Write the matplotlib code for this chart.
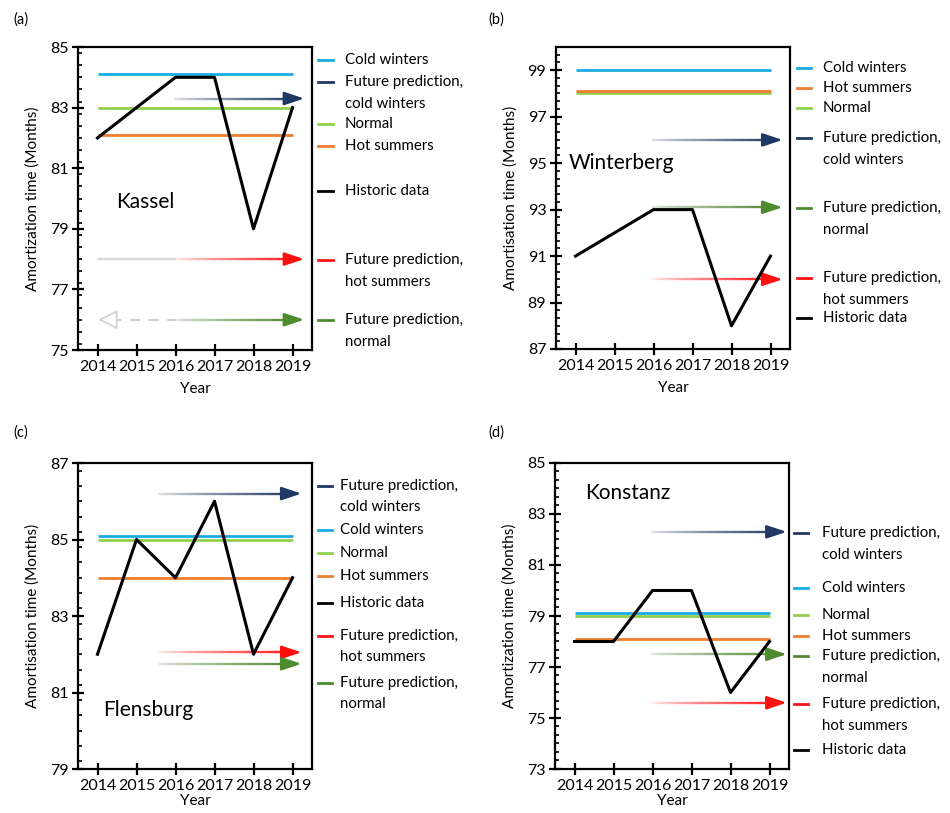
import matplotlib
matplotlib.use('Agg')
import matplotlib.pyplot as plt
import matplotlib.transforms as mtransforms
from matplotlib.collections import LineCollection
from matplotlib.ticker import MultipleLocator
from matplotlib.colors import to_rgb
import numpy as np

plt.rcParams.update({'font.family': ['Lato', 'DejaVu Sans'], 'font.size': 10.5})

# ---------------- data ----------------
years = [2014, 2015, 2016, 2017, 2018, 2019]

kassel_hist = [82, 83, 84, 84, 79, 83]
kassel_cold, kassel_normal, kassel_hot = 84.1, 83.0, 82.1
kassel_fut_cold, kassel_fut_hot, kassel_fut_normal = 83.3, 78.0, 76.0

winterberg_hist = [91, 92, 93, 93, 88, 91]
winterberg_cold, winterberg_normal, winterberg_hot = 99.0, 98.0, 98.1
winterberg_fut_cold, winterberg_fut_normal, winterberg_fut_hot = 96.0, 93.1, 90.0

flensburg_hist = [82, 85, 84, 86, 82, 84]
flensburg_cold, flensburg_normal, flensburg_hot = 85.1, 85.0, 84.0
flensburg_fut_cold, flensburg_fut_hot, flensburg_fut_normal = 86.2, 82.05, 81.75

konstanz_hist = [78, 78, 80, 80, 76, 78]
konstanz_cold, konstanz_normal, konstanz_hot = 79.1, 79.0, 78.1
konstanz_fut_cold, konstanz_fut_normal, konstanz_fut_hot = 82.3, 77.5, 75.6

# colours
C_COLD = '#1AABE3'
C_FCOLD = '#203864'
C_NORM = '#92D050'
C_HOT = '#ED7D31'
C_FHOT = '#FF1010'
C_FNORM = '#4E8A2E'
C_HIST = 'black'

W, H = 950, 813
fig = plt.figure(figsize=(W / 100, H / 100), dpi=100)

TICK_FS = 11.5
LAB_FS = 11
LEG_FS = 10.8


def make_ax(l, r, t, b):
    return fig.add_axes([l / W, 1 - b / H, (r - l) / W, (b - t) / H])


def style_ax(ax, ylim, minor, ylab, xpad=6):
    ax.set_xlim(2013.5, 2019.5)
    ax.set_ylim(*ylim)
    ax.set_xticks(years)
    ax.set_yticks(np.arange(ylim[0], ylim[1] + 0.01, 2))
    ax.yaxis.set_minor_locator(MultipleLocator(minor))
    for s in ax.spines.values():
        s.set_linewidth(1.6)
    ax.tick_params(axis='x', direction='inout', length=8, width=1.6, labelsize=TICK_FS, pad=3)
    ax.tick_params(axis='y', which='major', direction='inout', length=8, width=1.6,
                   labelsize=TICK_FS, pad=3)
    ax.tick_params(axis='y', which='minor', direction='in', length=3, width=1.2)
    ax.set_xlabel('Year', fontsize=LAB_FS, labelpad=xpad)
    ax.set_ylabel(ylab, fontsize=LAB_FS, labelpad=7)


def levels(ax, cold, normal, hot, order=('normal', 'hot', 'cold')):
    vals = {'normal': (normal, C_NORM), 'hot': (hot, C_HOT), 'cold': (cold, C_COLD)}
    for k in order:
        v, c = vals[k]
        ax.plot([years[0], years[-1]], [v, v], color=c, lw=2.0, solid_capstyle='butt', zorder=2)


def grad_arrow(ax, x0, x1, y, color, ls='solid', start=(0.9, 0.9, 0.9)):
    n = 80
    xs = np.linspace(x0, x1 - 0.15, n + 1)
    segs = [[(xs[i], y), (xs[i + 1], y)] for i in range(n)]
    t = np.linspace(0, 1, n) ** 0.8
    c1 = np.array(to_rgb(color))
    cols = [tuple((1 - a) * np.array(start) + a * c1) for a in t]
    lc = LineCollection(segs, colors=cols, linewidths=1.7, linestyles=ls, zorder=3)
    ax.add_collection(lc)
    ax.annotate('', xy=(x1, y), xytext=(x1 - 0.2, y),
                arrowprops=dict(arrowstyle='-|>,head_length=0.6,head_width=0.2',
                                color=color, lw=1.7, shrinkA=0, shrinkB=0,
                                mutation_scale=20),
                annotation_clip=False, zorder=4)


def legend(ax, items, x0, x1, xt):
    tr = mtransforms.blended_transform_factory(ax.transAxes, ax.transData)
    for label, y, c in items:
        ax.plot([x0, x1], [y, y], color=c, lw=2.0, transform=tr, clip_on=False)
        lines = label.split('\n')
        ax.text(xt, y, lines[0], transform=tr, va='center', ha='left', fontsize=LEG_FS)
        if len(lines) > 1:
            ax.annotate(lines[1], xy=(xt, y), xycoords=tr, xytext=(0, -15.5),
                        textcoords='offset points', va='center', ha='left',
                        fontsize=LEG_FS)


# ---------------- (a) Kassel ----------------
ax = make_ax(78, 312, 47, 350)
style_ax(ax, (75, 85), 0.4, 'Amortization time (Months)')
levels(ax, kassel_cold, kassel_normal, kassel_hot)
ax.plot(years, kassel_hist, color=C_HIST, lw=2.2, zorder=5)
grad_arrow(ax, 2015.95, 2019.3, kassel_fut_cold, C_FCOLD)
ax.plot([2014, 2016], [kassel_fut_hot] * 2, color='#d8d8d8', lw=1.7, zorder=3)
grad_arrow(ax, 2016, 2019.3, kassel_fut_hot, C_FHOT, start=(1, 0.93, 0.93))
ax.plot([2014.35, 2016], [kassel_fut_normal] * 2, color='#d0d0d0', lw=1.5,
        ls=(0, (5, 4)), zorder=3)
grad_arrow(ax, 2016, 2019.3, kassel_fut_normal, C_FNORM, ls=(0, (5, 2)))
ax.annotate('', xy=(2014.02, kassel_fut_normal), xytext=(2014.4, kassel_fut_normal),
            arrowprops=dict(arrowstyle='-|>,head_length=0.6,head_width=0.3',
                            fc='white', ec='#d0d0d0', lw=1.2, shrinkA=0, shrinkB=0,
                            mutation_scale=20), zorder=4)
ax.text(2014.49, 79.9, 'Kassel', fontsize=15, va='center', ha='left')
legend(ax, [('Cold winters', 84.57, C_COLD),
            ('Future prediction,\ncold winters', 83.84, C_FCOLD),
            ('Normal', 82.46, C_NORM),
            ('Hot summers', 81.73, C_HOT),
            ('Historic data', 80.25, C_HIST),
            ('Future prediction,\nhot summers', 77.97, C_FHOT),
            ('Future prediction,\nnormal', 75.99, C_FNORM)],
       1.026, 1.09, 1.141)
fig.text(13 / W, 1 - 20 / H, '(a)', fontsize=10.5, va='center', ha='left')

# ---------------- (b) Winterberg ----------------
ax = make_ax(556, 790, 47, 349)
style_ax(ax, (87, 100), 1 / 3, 'Amortisation time (Months)')
ax.set_yticks(np.arange(87, 100, 2))
levels(ax, winterberg_cold, winterberg_normal, winterberg_hot)
ax.plot(years, winterberg_hist, color=C_HIST, lw=2.2, zorder=5)
grad_arrow(ax, 2015.95, 2019.31, winterberg_fut_cold, C_FCOLD)
grad_arrow(ax, 2015.95, 2019.31, winterberg_fut_normal, C_FNORM)
grad_arrow(ax, 2015.95, 2019.31, winterberg_fut_hot, C_FHOT, start=(1, 0.93, 0.93))
ax.text(2013.82, 95.0, 'Winterberg', fontsize=15, va='center', ha='left')
legend(ax, [('Cold winters', 99.09, C_COLD),
            ('Hot summers', 98.23, C_HOT),
            ('Normal', 97.37, C_NORM),
            ('Future prediction,\ncold winters', 96.08, C_FCOLD),
            ('Future prediction,\nnormal', 93.06, C_FNORM),
            ('Future prediction,\nhot summers', 90.05, C_FHOT),
            ('Historic data', 88.33, C_HIST)],
       1.03, 1.09, 1.141)
fig.text(488 / W, 1 - 20 / H, '(b)', fontsize=10.5, va='center', ha='left')

# ---------------- (c) Flensburg ----------------
ax = make_ax(78, 312, 463, 769)
style_ax(ax, (79, 87), 0.4, 'Amortisation time (Months)', xpad=1)
levels(ax, flensburg_cold, flensburg_normal, flensburg_hot)
ax.plot(years, flensburg_hist, color=C_HIST, lw=2.2, zorder=5)
grad_arrow(ax, 2015.56, 2019.23, flensburg_fut_cold, C_FCOLD)
grad_arrow(ax, 2015.56, 2019.23, flensburg_fut_hot, C_FHOT, start=(1, 0.93, 0.93))
grad_arrow(ax, 2015.56, 2019.23, flensburg_fut_normal, C_FNORM)
ax.text(2014.15, 80.55, 'Flensburg', fontsize=15, va='center', ha='left')
legend(ax, [('Future prediction,\ncold winters', 86.40, C_FCOLD),
            ('Cold winters', 85.25, C_COLD),
            ('Normal', 84.65, C_NORM),
            ('Hot summers', 84.05, C_HOT),
            ('Historic data', 83.34, C_HIST),
            ('Future prediction,\nhot summers', 82.48, C_FHOT),
            ('Future prediction,\nnormal', 81.25, C_FNORM)],
       1.026, 1.085, 1.12)
fig.text(13 / W, 1 - 433 / H, '(c)', fontsize=10.5, va='center', ha='left')

# ---------------- (d) Konstanz ----------------
ax = make_ax(555, 789, 463, 769)
style_ax(ax, (73, 85), 1 / 3, 'Amortization time (Months)', xpad=1)
levels(ax, konstanz_cold, konstanz_normal, konstanz_hot)
ax.plot(years, konstanz_hist, color=C_HIST, lw=2.2, zorder=5)
grad_arrow(ax, 2015.97, 2019.44, konstanz_fut_cold, C_FCOLD)
grad_arrow(ax, 2015.97, 2019.44, konstanz_fut_normal, C_FNORM)
grad_arrow(ax, 2015.97, 2019.44, konstanz_fut_hot, C_FHOT, start=(1, 0.93, 0.93))
ax.text(2014.26, 83.82, 'Konstanz', fontsize=15, va='center', ha='left')
legend(ax, [('Future prediction,\ncold winters', 82.25, C_FCOLD),
            ('Cold winters', 80.1, C_COLD),
            ('Normal', 79.04, C_NORM),
            ('Hot summers', 78.2, C_HOT),
            ('Future prediction,\nnormal', 77.43, C_FNORM),
            ('Future prediction,\nhot summers', 75.55, C_FHOT),
            ('Historic data', 73.75, C_HIST)],
       1.021, 1.081, 1.141)
fig.text(488 / W, 1 - 433 / H, '(d)', fontsize=10.5, va='center', ha='left')

fig.savefig('out.png', dpi=100)
